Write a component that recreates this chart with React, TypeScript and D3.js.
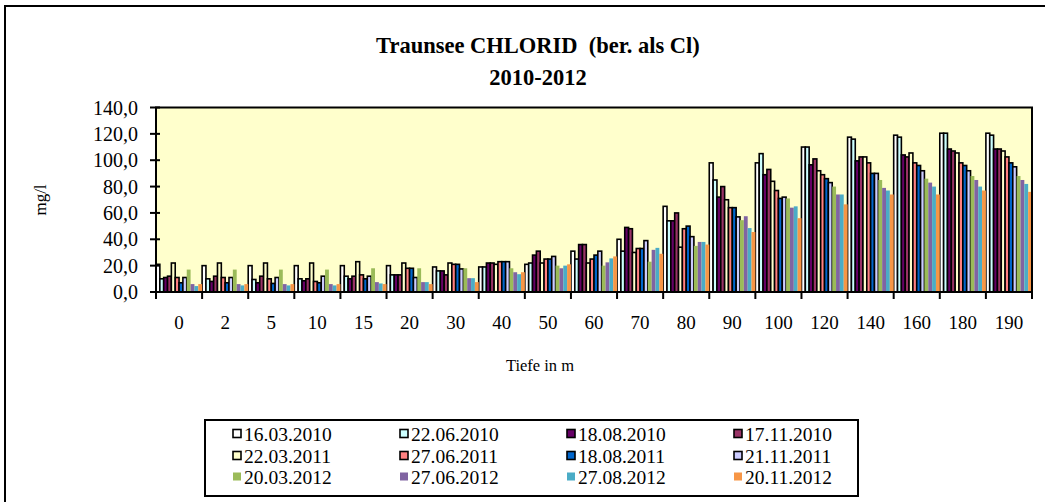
import React from "react";
import * as d3 from "d3";

const categories = ["0","2","5","10","15","20","30","40","50","60","70","80","90","100","120","140","160","180","190"];
const seriesNames = ["16.03.2010","22.06.2010","18.08.2010","17.11.2010","22.03.2011","27.06.2011","18.08.2011","21.11.2011","20.03.2012","27.06.2012","27.08.2012","20.11.2012"];
const seriesColors = ["#FFFFFF","#CCFFFF","#660066","#993366","#FFFFCC","#FF8080","#0066CC","#CCCCFF","#9BBB59","#8064A2","#4BACC6","#F79646"];
const seriesBorder = [true,true,true,true,true,true,true,true,false,false,false,false];

// values per series (index = category)
const s16032010 = [21,20,20,20,20,20,19,19,21,31,40,65,98,98,110,117.5,119,120.5,120.5];
const s22062010 = [10,10,9.5,10,12,13,16,19,22,25,31,54,85,105,110,116,117.5,120.5,119];
const s18082010 = [11,8,7,8.5,10,13,16,22,28,36,49,54,72,89,96.5,99.5,104,108.5,108.5];
const s17112010 = [12,12,12,10,12,13,13,22,31,36,48,60,80,93,101,102.5,102.5,107,108.5];
const s22032011 = [22,22,22,22,23,22,22,21,22,22,30,34,70,84,92,102.5,105.5,105.5,107];
const s27062011 = [11,11,10,8,13,18,21,23,25,25,33,48,64,77,89,98,98,98,102.5];
const s18082011 = [7,7,6.5,7,10,18,21,23,25,28,33,50,64,71,86,90,96,96,98];
const s21112011 = [11,11,11,12,12,11,17.5,23,27,31,39,42,57,72,83,90,92,92,95];
const s20032012 = [17,17,17,17,18,18,18,18,20,20,23,35,54.5,71,80,85,86,88,88];
const s27062012 = [6,6,6,6,7.5,7.5,10.5,15,18,22.5,32,38,57.5,64,74,79,83,85,85];
const s27082012 = [4.5,5,5,5,6.5,7.5,10.5,13.5,20,25.5,33.5,38,48.5,65,74,77,80,80,82];
const s20112012 = [6,6,6,6,6,6,7.5,15,21,27,29,36,45.5,56,66.5,74,74,77,76];
const seriesValues = [s16032010,s22062010,s18082010,s17112010,s22032011,s27062011,s18082011,s21112011,s20032012,s27062012,s27082012,s20112012];

const yTicks = [0,20,40,60,80,100,120,140];

const FONT = "Liberation Serif";

export default function App() {
  const W = 1045, H = 502;
  const plot = { left: 156, right: 1032, top: 107.5, bottom: 292 };
  const x = d3.scaleBand<string>().domain(categories).range([plot.left, plot.right]).paddingInner(0).paddingOuter(0);
  const xs = d3.scaleBand<number>().domain(d3.range(seriesNames.length)).range([0, x.bandwidth()]).padding(0);
  const y = d3.scaleLinear().domain([0, 140]).range([plot.bottom, plot.top]);
  const fmt = (v: number) => v.toFixed(1).replace(".", ",");
  const tf = { fontFamily: FONT, whiteSpace: "pre" as const };

  const legendCols = [233, 400, 567, 734];
  const legendRows = [434, 456, 477];

  return (
    <svg width={W} height={H} style={{ position: "absolute", left: 0, top: 0, background: "#fff" }}>
      <rect x={5} y={6} width={1200} height={700} fill="#fff" stroke="#000" strokeWidth={2} />
      <text x={538} y={53} textAnchor="middle" fontWeight="bold" fontSize={22.5} style={tf}>{"Traunsee CHLORID  (ber. als Cl)"}</text>
      <text x={538} y={85} textAnchor="middle" fontWeight="bold" fontSize={22.5} style={tf}>2010-2012</text>

      <rect x={plot.left} y={plot.top} width={plot.right - plot.left} height={plot.bottom - plot.top} fill="#FFFFCC" />

      {seriesValues.map((vals, si) =>
        categories.map((c, ci) => {
          const v = vals[ci];
          const bx = (x(c) as number) + (xs(si) as number);
          const by = y(v);
          return (
            <rect key={`${si}-${ci}`} x={bx} y={by} width={xs.bandwidth()} height={plot.bottom - by}
              fill={seriesColors[si]} stroke={seriesBorder[si] ? "#000" : "none"} strokeWidth={seriesBorder[si] ? 1.6 : 0} />
          );
        })
      )}

      <rect x={plot.left} y={plot.top} width={plot.right - plot.left} height={plot.bottom - plot.top} fill="none" stroke="#000" strokeWidth={2} />

      {yTicks.map((t) => (
        <g key={t}>
          <line x1={plot.left - 6} x2={plot.left + 4} y1={y(t)} y2={y(t)} stroke="#000" strokeWidth={2} />
          <text x={138} y={y(t)} dy="0.35em" textAnchor="end" fontSize={20} style={tf}>{fmt(t)}</text>
        </g>
      ))}

      {categories.map((c) => (
        <line key={"t" + c} x1={x(c) as number} x2={x(c) as number} y1={plot.bottom} y2={plot.bottom + 7} stroke="#000" strokeWidth={2} />
      ))}
      <line x1={plot.right} x2={plot.right} y1={plot.bottom} y2={plot.bottom + 7} stroke="#000" strokeWidth={2} />

      {categories.map((c) => (
        <text key={"l" + c} x={(x(c) as number) + x.bandwidth() / 2} y={329} textAnchor="middle" fontSize={19} style={tf}>{c}</text>
      ))}

      <text x={540} y={371} textAnchor="middle" fontSize={16.5} style={tf}>Tiefe in m</text>
      <text transform="translate(46,200) rotate(-90)" textAnchor="middle" fontSize={17} style={tf}>mg/l</text>

      <rect x={205} y={420} width={653} height={76} fill="#fff" stroke="#000" strokeWidth={2} />
      {seriesNames.map((n, i) => {
        const col = i % 4, row = Math.floor(i / 4);
        const mx = legendCols[col], my = legendRows[row];
        return (
          <g key={n}>
            <rect x={mx} y={my - 4.5} width={8} height={8} fill={seriesColors[i]}
              stroke={seriesBorder[i] ? "#000" : "none"} strokeWidth={seriesBorder[i] ? 1.6 : 0} />
            <text x={mx + 11} y={my} dy="0.35em" fontSize={19.5} style={tf}>{n}</text>
          </g>
        );
      })}
    </svg>
  );
}
